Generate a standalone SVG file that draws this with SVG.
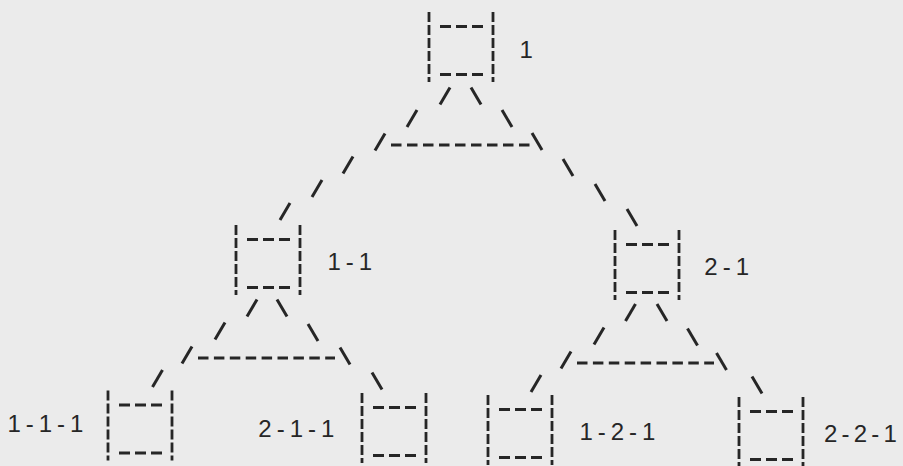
<svg xmlns="http://www.w3.org/2000/svg" xmlns:xlink="http://www.w3.org/1999/xlink" width="903" height="466" viewBox="0 0 903 466">
<style>
.ink{stroke:#262626;stroke-width:3;fill:none;stroke-linecap:butt}
.bar{stroke-dasharray:10 3;stroke-width:2.8}
.rule{stroke-dasharray:10.5 5.4}
.lbl{font-family:"Liberation Sans",Arial,sans-serif;font-size:24px;letter-spacing:5px;fill:#262626}
</style>
<defs>
<g id="box">
<line class="ink bar" x1="0" y1="0" x2="0" y2="70"/>
<line class="ink bar" x1="64" y1="0" x2="64" y2="70"/>
<path class="ink" d="M11 14.5h11M27 14.5h11M43 14.5h11M11 62.5h11M27 62.5h11M43 62.5h11"/>
</g>
<line id="fs" class="ink" x1="-5" y1="8.5" x2="5" y2="-8.5"/>
<line id="bs" class="ink" x1="-5" y1="-8.5" x2="5" y2="8.5"/>
</defs>
<rect width="903" height="466" fill="#ebebeb"/>
<g id="connectors">
<!-- from node 1 -->
<use xlink:href="#fs" x="445" y="96"/><use xlink:href="#bs" x="476" y="96"/>
<use xlink:href="#fs" x="412" y="118.5"/><use xlink:href="#bs" x="507" y="118.5"/>
<use xlink:href="#fs" x="380" y="142"/><use xlink:href="#bs" x="537" y="141.5"/>
<line class="ink rule" x1="391" y1="145" x2="530" y2="145" style="stroke-dasharray:10.5 5.5"/>
<use xlink:href="#fs" x="348" y="165"/><use xlink:href="#fs" x="317" y="188.5"/><use xlink:href="#fs" x="285" y="211.5"/>
<use xlink:href="#bs" x="568" y="167.5"/><use xlink:href="#bs" x="600" y="192.5"/><use xlink:href="#bs" x="632" y="217.5"/>
<!-- from node 1-1 -->
<use xlink:href="#fs" x="252" y="308"/><use xlink:href="#bs" x="282" y="308"/>
<use xlink:href="#fs" x="220" y="331"/><use xlink:href="#bs" x="313" y="332.5"/>
<use xlink:href="#fs" x="187" y="355"/><use xlink:href="#bs" x="345" y="356"/>
<line class="ink rule" x1="198" y1="358" x2="335" y2="358"/>
<use xlink:href="#fs" x="157.5" y="378.5"/><use xlink:href="#bs" x="377" y="381"/>
<!-- from node 2-1 -->
<use xlink:href="#fs" x="630.5" y="312.5"/><use xlink:href="#bs" x="662" y="312.5"/>
<use xlink:href="#fs" x="599" y="336"/><use xlink:href="#bs" x="692.5" y="337"/>
<use xlink:href="#fs" x="566" y="360"/><use xlink:href="#bs" x="721.5" y="361.5"/>
<line class="ink rule" x1="577" y1="363" x2="714" y2="363"/>
<use xlink:href="#fs" x="536" y="383.5"/><use xlink:href="#bs" x="757" y="385"/>
</g>
<g id="node-1">
<use xlink:href="#box" x="429" y="12"/>
<text class="lbl" x="519.4" y="58">1</text>
</g>
<g id="node-1-1">
<use xlink:href="#box" x="236" y="225"/>
<text class="lbl" x="327.4" y="270">1-1</text>
</g>
<g id="node-2-1">
<use xlink:href="#box" x="615" y="230"/>
<text class="lbl" x="704.3" y="275">2-1</text>
</g>
<g id="node-1-1-1">
<use xlink:href="#box" x="108" y="390.5"/>
<text class="lbl" x="7.4" y="432">1-1-1</text>
</g>
<g id="node-2-1-1">
<use xlink:href="#box" x="362" y="393"/>
<text class="lbl" x="258.3" y="437">2-1-1</text>
</g>
<g id="node-1-2-1">
<use xlink:href="#box" x="488" y="395"/>
<text class="lbl" x="579.4" y="440">1-2-1</text>
</g>
<g id="node-2-2-1">
<use xlink:href="#box" x="739" y="397"/>
<text class="lbl" x="824" y="442" style="letter-spacing:4.2px">2-2-1</text>
</g>
</svg>
